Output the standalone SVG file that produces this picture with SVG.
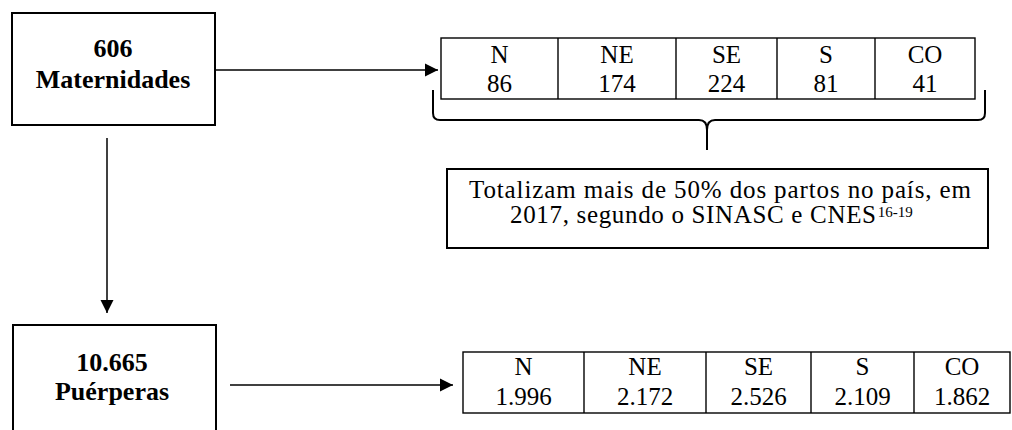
<svg xmlns="http://www.w3.org/2000/svg" width="1012" height="430" viewBox="0 0 1012 430">
  <style>
    .box { fill: #fff; stroke: #000; stroke-width: 2; }
    .cell { fill: #fff; stroke: #000; stroke-width: 1.4; }
    .lbl { font-family: "Liberation Serif", "Times New Roman", serif; font-weight: bold; font-size: 26px; text-anchor: middle; fill: #000; }
    .tt { font-family: "Liberation Serif", "Times New Roman", serif; font-size: 25px; text-anchor: middle; fill: #000; }
    .note { font-family: "Liberation Serif", "Times New Roman", serif; font-size: 25px; fill: #000; }
    .conn { fill: none; stroke: #000; stroke-width: 1.5; }
    .brace { fill: none; stroke: #000; stroke-width: 2; }
  </style>
  <defs>
    <marker id="arrow" markerUnits="userSpaceOnUse" markerWidth="14" markerHeight="14" refX="13" refY="7" orient="auto">
      <path d="M0,0.5 L13,7 L0,13.5 z" fill="#000"/>
    </marker>
  </defs>
  <rect width="1012" height="430" fill="#fff"/>

  <g id="connectors">
    <line class="conn" x1="216" y1="70" x2="438" y2="70" marker-end="url(#arrow)"/>
    <line class="conn" x1="107" y1="138" x2="107" y2="313" marker-end="url(#arrow)"/>
    <line class="conn" x1="230" y1="385" x2="453" y2="385" marker-end="url(#arrow)"/>
    <path class="brace" d="M433,90 L433,113 Q433,120 440,120 L699,120 Q707,120 707,130 L707,150 M707,130 Q707,120 715,120 L978,120 Q985,120 985,113 L985,90"/>
  </g>

  <g id="node-maternidades">
    <rect class="box" x="12" y="13" width="203" height="112"/>
    <text class="lbl" x="113" y="57">606</text>
    <text class="lbl" x="113" y="88">Maternidades</text>
  </g>

  <g id="node-table-maternidades">
    <rect class="cell" x="441" y="38" width="534" height="61"/>
    <line class="cell" x1="558" y1="38" x2="558" y2="99"/>
    <line class="cell" x1="676" y1="38" x2="676" y2="99"/>
    <line class="cell" x1="777" y1="38" x2="777" y2="99"/>
    <line class="cell" x1="875" y1="38" x2="875" y2="99"/>
    <text class="tt" x="499.5" y="63">N</text>
    <text class="tt" x="617" y="63">NE</text>
    <text class="tt" x="726.5" y="63">SE</text>
    <text class="tt" x="826" y="63">S</text>
    <text class="tt" x="925" y="63">CO</text>
    <text class="tt" x="499.5" y="92">86</text>
    <text class="tt" x="617" y="92">174</text>
    <text class="tt" x="726.5" y="92">224</text>
    <text class="tt" x="826" y="92">81</text>
    <text class="tt" x="925" y="92">41</text>
  </g>

  <g id="node-note">
    <rect class="box" x="447" y="169" width="541" height="79"/>
    <text class="note" x="469" y="198" textLength="502" lengthAdjust="spacing">Totalizam mais de 50% dos partos no país, em</text>
    <text class="note" x="510" y="223"><tspan textLength="366" lengthAdjust="spacing">2017, segundo o SINASC e CNES</tspan><tspan font-size="15" dx="1" dy="-6">16-19</tspan></text>
  </g>

  <g id="node-puerperas">
    <rect class="box" x="13" y="325" width="203" height="120"/>
    <text class="lbl" x="112" y="371">10.665</text>
    <text class="lbl" x="112" y="400">Puérperas</text>
  </g>

  <g id="node-table-puerperas">
    <rect class="cell" x="463" y="352" width="547" height="61"/>
    <line class="cell" x1="584" y1="352" x2="584" y2="413"/>
    <line class="cell" x1="706" y1="352" x2="706" y2="413"/>
    <line class="cell" x1="811" y1="352" x2="811" y2="413"/>
    <line class="cell" x1="914" y1="352" x2="914" y2="413"/>
    <text class="tt" x="523.5" y="375">N</text>
    <text class="tt" x="645" y="375">NE</text>
    <text class="tt" x="758.5" y="375">SE</text>
    <text class="tt" x="862.5" y="375">S</text>
    <text class="tt" x="962" y="375">CO</text>
    <text class="tt" x="523.5" y="405">1.996</text>
    <text class="tt" x="645" y="405">2.172</text>
    <text class="tt" x="758.5" y="405">2.526</text>
    <text class="tt" x="862.5" y="405">2.109</text>
    <text class="tt" x="962" y="405">1.862</text>
  </g>
</svg>
